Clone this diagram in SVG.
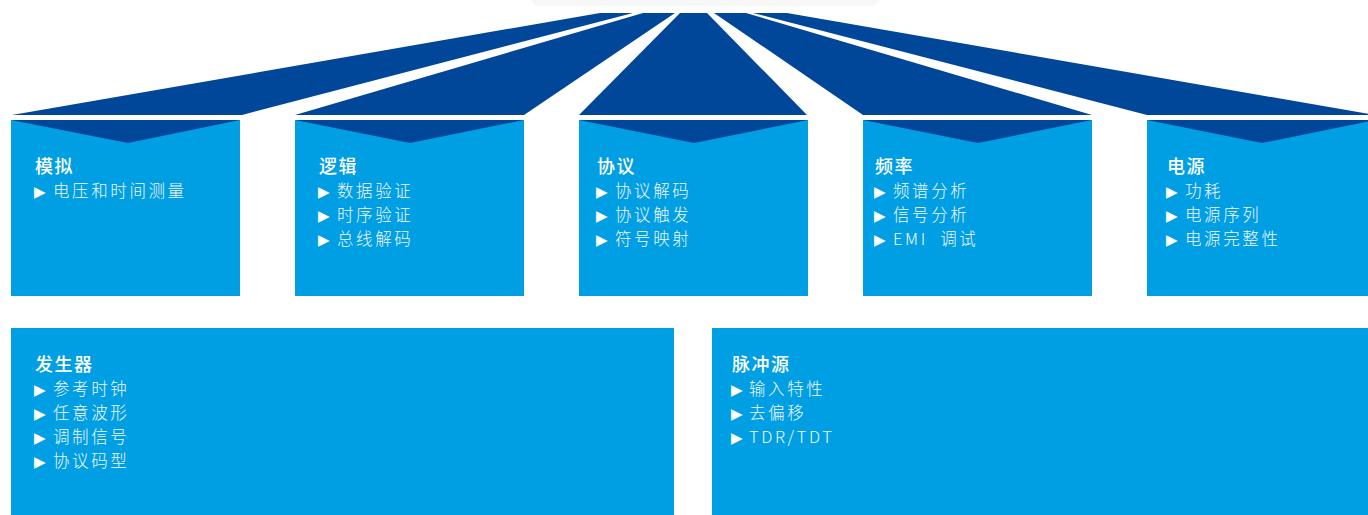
<svg xmlns="http://www.w3.org/2000/svg" width="1368" height="515" viewBox="0 0 1368 515">
  <defs>
    <style>
      .ray { fill: #00479a; }
      .box { fill: #009fe3; }
      .notch { fill: #00479a; }
      .hd { font-family: "Noto Sans CJK SC", "Noto Sans", sans-serif; font-size: 18px; letter-spacing: 1.5px; font-weight: 500; fill: #ffffff; }
      .it { font-family: "Noto Sans CJK SC", "Noto Sans", sans-serif; font-size: 16.5px; letter-spacing: 2.6px; font-weight: 300; fill: #f2f8fd; }
      .bl { font-family: "DejaVu Sans", sans-serif; font-size: 15px; fill: #ffffff; }
    </style>
  </defs>
  <rect width="1368" height="515" fill="#ffffff"/>
  <path d="M530 0 H880 L874 6 H536 Z" fill="#f7f7f7"/>

  <g id="connectors">
    <polygon class="ray" points="600,13 633,13 242,115 12,115"/>
    <polygon class="ray" points="643,13 675,13 524,115 295,115"/>
    <polygon class="ray" points="680,13 707,13 807,115 579,115"/>
    <polygon class="ray" points="714,13 746,13 1092,115 863,115"/>
    <polygon class="ray" points="753,13 787,13 1375,115 1147,115"/>
  </g>

  <g id="node-analog">
    <rect class="box" x="11" y="120" width="229" height="176"/>
    <polygon class="notch" points="11,120 240,120 128,143"/>
    <text class="hd" x="35" y="172.5">模拟</text>
    <text x="34" y="197"><tspan class="bl">▶</tspan><tspan class="it" x="53">电压和时间测量</tspan></text>
  </g>

  <g id="node-logic">
    <rect class="box" x="295" y="120" width="229" height="176"/>
    <polygon class="notch" points="295,120 524,120 410,143"/>
    <text class="hd" x="319" y="172.5">逻辑</text>
    <text x="318" y="197"><tspan class="bl">▶</tspan><tspan class="it" x="337">数据验证</tspan></text>
    <text x="318" y="221"><tspan class="bl">▶</tspan><tspan class="it" x="337">时序验证</tspan></text>
    <text x="318" y="245"><tspan class="bl">▶</tspan><tspan class="it" x="337">总线解码</tspan></text>
  </g>

  <g id="node-protocol">
    <rect class="box" x="579" y="120" width="229" height="176"/>
    <polygon class="notch" points="579,120 808,120 694,143"/>
    <text class="hd" x="597" y="172.5">协议</text>
    <text x="596" y="197"><tspan class="bl">▶</tspan><tspan class="it" x="615">协议解码</tspan></text>
    <text x="596" y="221"><tspan class="bl">▶</tspan><tspan class="it" x="615">协议触发</tspan></text>
    <text x="596" y="245"><tspan class="bl">▶</tspan><tspan class="it" x="615">符号映射</tspan></text>
  </g>

  <g id="node-frequency">
    <rect class="box" x="863" y="120" width="229" height="176"/>
    <polygon class="notch" points="863,120 1092,120 978,143"/>
    <text class="hd" x="875" y="172.5">频率</text>
    <text x="874" y="197"><tspan class="bl">▶</tspan><tspan class="it" x="893">频谱分析</tspan></text>
    <text x="874" y="221"><tspan class="bl">▶</tspan><tspan class="it" x="893">信号分析</tspan></text>
    <text x="874" y="245"><tspan class="bl">▶</tspan><tspan class="it" x="893" xml:space="preserve">EMI  调试</tspan></text>
  </g>

  <g id="node-power">
    <rect class="box" x="1147" y="120" width="221" height="176"/>
    <polygon class="notch" points="1147,120 1376,120 1262,143"/>
    <text class="hd" x="1167" y="172.5">电源</text>
    <text x="1166" y="197"><tspan class="bl">▶</tspan><tspan class="it" x="1185">功耗</tspan></text>
    <text x="1166" y="221"><tspan class="bl">▶</tspan><tspan class="it" x="1185">电源序列</tspan></text>
    <text x="1166" y="245"><tspan class="bl">▶</tspan><tspan class="it" x="1185">电源完整性</tspan></text>
  </g>

  <g id="node-generator">
    <rect class="box" x="11" y="328" width="663" height="187"/>
    <text class="hd" x="35" y="370.5">发生器</text>
    <text x="34" y="395"><tspan class="bl">▶</tspan><tspan class="it" x="53">参考时钟</tspan></text>
    <text x="34" y="419"><tspan class="bl">▶</tspan><tspan class="it" x="53">任意波形</tspan></text>
    <text x="34" y="443"><tspan class="bl">▶</tspan><tspan class="it" x="53">调制信号</tspan></text>
    <text x="34" y="467"><tspan class="bl">▶</tspan><tspan class="it" x="53">协议码型</tspan></text>
  </g>

  <g id="node-pulse">
    <rect class="box" x="712" y="328" width="656" height="187"/>
    <text class="hd" x="732" y="370.5">脉冲源</text>
    <text x="731" y="395"><tspan class="bl">▶</tspan><tspan class="it" x="749">输入特性</tspan></text>
    <text x="731" y="419"><tspan class="bl">▶</tspan><tspan class="it" x="749">去偏移</tspan></text>
    <text x="731" y="443"><tspan class="bl">▶</tspan><tspan class="it" x="749">TDR/TDT</tspan></text>
  </g>
</svg>
